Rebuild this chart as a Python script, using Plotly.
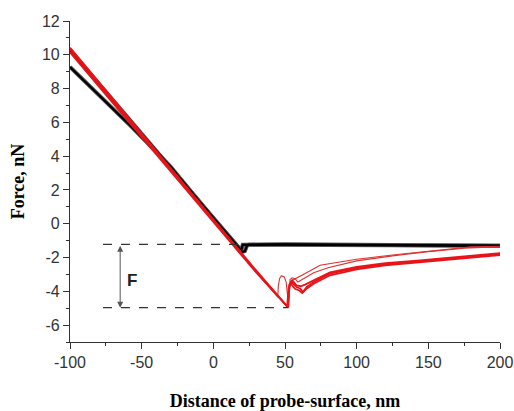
import plotly.graph_objects as go

# ---- data ----
# approach curves (black)
black1_x = [-100, -60, -20, 10, 18.6, 19.5, 20.5, 40, 80, 120, 160, 200]
black1_y = [10.30, 6.30, 2.30, -0.70, -1.50, -1.55, -1.25, -1.24, -1.26, -1.27, -1.29, -1.31]
black2_x = [-100, -57, -30, 0, 17.5, 18.5, 20.5, 22, 23.5, 24.5, 50, 100, 150, 200]
black2_y = [9.28, 5.73, 3.40, 0.30, -1.40, -1.62, -1.66, -1.62, -1.30, -1.24, -1.22, -1.25, -1.28, -1.30]

# retraction curves (red, thick bundle)
red1_x = [-100, -50, 0, 30, 52.3, 53.0, 54.5, 58, 60.5, 62.6, 65, 70, 81.4, 100, 120, 144.2, 170, 200]
red1_y = [10.42, 5.34, 0.27, -2.78, -4.96, -3.70, -3.45, -3.75, -3.83, -4.03, -3.75, -3.45, -2.95, -2.62, -2.40, -2.22, -2.00, -1.78]
red2_x = [-100, -50, 0, 30, 51.5, 52.5, 54, 57, 60, 62, 65, 70, 81.4, 100, 120, 144.2, 170, 200]
red2_y = [10.30, 5.25, 0.20, -2.83, -4.90, -3.80, -3.55, -3.85, -3.95, -4.10, -3.85, -3.55, -3.05, -2.70, -2.46, -2.28, -2.06, -1.85]
red3_x = [-100, -50, 0, 30, 52.0, 53.0, 55, 58, 61, 64, 70, 81.4, 100, 120, 144.2, 170, 200]
red3_y = [10.15, 5.12, 0.08, -2.90, -4.93, -3.60, -3.35, -3.65, -3.70, -3.60, -3.35, -2.88, -2.55, -2.34, -2.17, -1.96, -1.74]

# retraction curves (red, thin)
red4_x = [30, 45, 45.3, 46.2, 47.5, 49.5, 50.8, 51.2, 51.5, 52.2, 54, 58, 65, 74.5, 100, 125, 144.2, 165, 180, 200]
red4_y = [-2.86, -4.35, -3.70, -3.25, -3.08, -3.15, -3.45, -3.75, -4.10, -4.60, -3.40, -3.20, -2.90, -2.46, -2.10, -1.85, -1.67, -1.50, -1.37, -1.33]
red5_x = [52.3, 53.5, 55, 57, 59, 62, 70, 80, 100, 125, 150, 175, 200]
red5_y = [-4.90, -3.30, -3.20, -3.25, -3.45, -3.30, -2.90, -2.60, -2.20, -1.90, -1.65, -1.45, -1.36]

# annotation geometry
dash_x0 = -77
dash_top_x1 = 18.5
dash_bot_x1 = 52.3
level_top = -1.22
level_bot = -4.97
arrow_x = -65
f_label_x = -56.5
f_label_y = -3.35

x_ticks = [-100, -50, 0, 50, 100, 150, 200]
y_ticks = [-6, -4, -2, 0, 2, 4, 6, 8, 10, 12]

fig = go.Figure()

for xs, ys in [(black1_x, black1_y), (black2_x, black2_y)]:
    fig.add_trace(go.Scatter(x=xs, y=ys, mode="lines",
                             line=dict(color="#555555", width=4.0), hoverinfo="skip", showlegend=False))
for xs, ys in [(black1_x, black1_y), (black2_x, black2_y)]:
    fig.add_trace(go.Scatter(x=xs, y=ys, mode="lines",
                             line=dict(color="#000000", width=2.2), showlegend=False))

for xs, ys in [(red4_x, red4_y), (red5_x, red5_y)]:
    fig.add_trace(go.Scatter(x=xs, y=ys, mode="lines",
                             line=dict(color="#e03030", width=1.1), showlegend=False))
for xs, ys in [(red1_x, red1_y), (red2_x, red2_y), (red3_x, red3_y)]:
    fig.add_trace(go.Scatter(x=xs, y=ys, mode="lines",
                             line=dict(color="#e8141a", width=1.8), showlegend=False))

# dashed reference lines
fig.add_shape(type="line", x0=dash_x0, x1=dash_top_x1, y0=level_top, y1=level_top,
              line=dict(color="#333333", width=1.2, dash="dash"))
fig.add_shape(type="line", x0=dash_x0, x1=dash_bot_x1, y0=level_bot, y1=level_bot,
              line=dict(color="#333333", width=1.2, dash="dash"))

# double arrow
fig.add_annotation(x=arrow_x, y=level_bot, ax=arrow_x, ay=level_top,
                   xref="x", yref="y", axref="x", ayref="y", text="",
                   showarrow=True, arrowhead=2, arrowside="end+start",
                   arrowsize=1.2, arrowwidth=1, arrowcolor="#555555")
fig.add_annotation(x=f_label_x, y=f_label_y, xref="x", yref="y", text="<b>F</b>",
                   showarrow=False, font=dict(family="Liberation Sans, Arial", size=17, color="#222222"))

axis_common = dict(showline=True, linecolor="#333333", linewidth=1.2, mirror=False,
                   ticks="outside", ticklen=6, tickwidth=1.2, tickcolor="#333333",
                   showgrid=False, zeroline=False, automargin=False,
                   tickfont=dict(family="Liberation Sans, Arial", size=16, color="#333333"))

fig.update_xaxes(range=[-100, 200], tickvals=x_ticks, ticktext=[str(v) for v in x_ticks],
                 minor=dict(tickvals=[-75, -25, 25, 75, 125, 175], ticks="outside", ticklen=3,
                            tickwidth=1.2, tickcolor="#333333"),
                 title=dict(text="<b>Distance of probe-surface, nm</b>", standoff=28,
                            font=dict(family="Liberation Serif, Times New Roman", size=18, color="#000000")),
                 **axis_common)
fig.update_yaxes(range=[-7, 12], tickvals=y_ticks, ticktext=[str(v) for v in y_ticks],
                 minor=dict(tickvals=[-7, -5, -3, -1, 1, 3, 5, 7, 9, 11], ticks="outside", ticklen=3,
                            tickwidth=1.2, tickcolor="#333333"),
                 title=dict(text="<b>Force, nN</b>", standoff=12,
                            font=dict(family="Liberation Serif, Times New Roman", size=18, color="#000000")),
                 **axis_common)

fig.update_layout(width=514, height=411, margin=dict(l=70, r=14, t=21, b=69),
                  plot_bgcolor="white", paper_bgcolor="white", showlegend=False)

fig.write_html("out.html", config={"displayModeBar": False},
               post_script="document.body.style.margin='0px';document.body.style.overflow='hidden';")
